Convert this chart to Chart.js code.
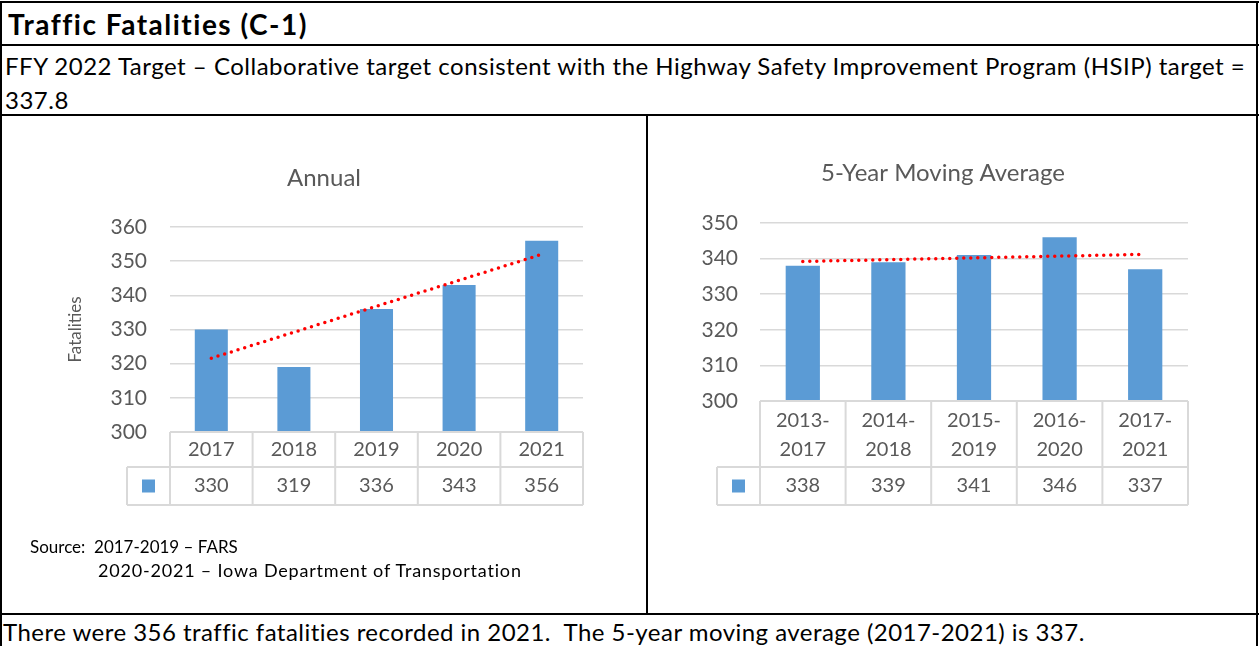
<!DOCTYPE html>
<html>
<head>
<meta charset="utf-8">
<script src="https://cdn.jsdelivr.net/npm/chart.js@4.4.0/dist/chart.umd.min.js"></script>
<style>
  html, body { margin: 0; padding: 0; background: #fff; }
  body { width: 1259px; height: 646px; position: relative; overflow: hidden; font-family: Lato, "Open Sans", sans-serif; color: #000; }
  .line { position: absolute; background: #000; }
  .txt { position: absolute; white-space: pre; line-height: 1; }
  canvas { position: absolute; }
</style>
</head>
<body>
<!-- table borders -->
<div class="line" style="left:0;top:1px;width:1259px;height:2px"></div>
<div class="line" style="left:0;top:1px;width:2px;height:645px"></div>
<div class="line" style="left:1256px;top:1px;width:2px;height:645px"></div>
<div class="line" style="left:0;top:44px;width:1259px;height:2px"></div>
<div class="line" style="left:0;top:114px;width:1259px;height:2px"></div>
<div class="line" style="left:646px;top:114px;width:2px;height:500px"></div>
<div class="line" style="left:0;top:613px;width:1259px;height:2px"></div>

<div class="txt" style="left:8px;top:10px;font-size:28px;font-weight:bold;letter-spacing:1.5px">Traffic Fatalities (C-1)</div>
<div class="txt" style="left:5px;top:54px;font-size:24px;letter-spacing:0.5px">FFY 2022 Target – Collaborative target consistent with the Highway Safety Improvement Program (HSIP) target =</div>
<div class="txt" style="left:5px;top:88px;font-size:24px;letter-spacing:0.5px">337.8</div>

<canvas id="annual" width="644" height="497" style="left:2px;top:116px;width:644px;height:497px"></canvas>
<canvas id="average" width="590" height="497" style="left:648px;top:116px;width:590px;height:497px"></canvas>

<div class="txt" style="left:30px;top:538px;font-size:17px">Source:  2017-2019 – FARS</div>
<div class="txt" style="left:98px;top:561px;font-size:18px;letter-spacing:0.8px">2020-2021 – Iowa Department of Transportation</div>

<div class="txt" style="left:3px;top:620px;font-size:24px;letter-spacing:0.47px">There were 356 traffic fatalities recorded in 2021.  The 5-year moving average (2017-2021) is 337.</div>

<script>
// Annual chart
const annualYears = ["2017", "2018", "2019", "2020", "2021"];
const annualFatalities = [330, 319, 336, 343, 356];
const annualTrend = [321.6, 329.2, 336.8, 344.4, 352.0];
const annualTicks = [300, 310, 320, 330, 340, 350, 360];

// 5-year moving average chart
const avgPeriods = [["2013-", "2017"], ["2014-", "2018"], ["2015-", "2019"], ["2016-", "2020"], ["2017-", "2021"]];
const avgFatalities = [338, 339, 341, 346, 337];
const avgTrend = [339.2, 339.7, 340.2, 340.7, 341.2];
const avgTicks = [300, 310, 320, 330, 340, 350];

const barColor = "#5B9BD5";
const textColor = "#595959";
const gridColor = "#D9D9D9";

Chart.defaults.font.family = "Lato";
Chart.defaults.color = textColor;

// draws the data table under the x axis (category row lines + value row)
const dataTable = {
    id: "dataTable",
    afterDraw(chart, args, opts) {
        const ctx = chart.ctx;
        const x = chart.scales.x;
        const values = chart.data.datasets.find((d) => d.type === "bar").data;
        const n = chart.data.labels.length;
        const step = x.width / n;
        const top = x.top;
        const mid = x.bottom;
        const bot = x.bottom + opts.rowHeight;
        const legLeft = x.left - opts.legendWidth;

        ctx.save();
        ctx.strokeStyle = gridColor;
        ctx.lineWidth = 2;
        ctx.beginPath();
        ctx.moveTo(x.left, top);
        ctx.lineTo(x.right, top);
        ctx.moveTo(legLeft, mid);
        ctx.lineTo(x.right, mid);
        ctx.moveTo(legLeft, bot);
        ctx.lineTo(x.right, bot);
        for (let i = 0; i <= n; i++) {
            const px = x.left + i * step;
            ctx.moveTo(px, top);
            ctx.lineTo(px, bot);
        }
        ctx.moveTo(legLeft, mid);
        ctx.lineTo(legLeft, bot);
        ctx.stroke();

        const cy = (mid + bot) / 2;
        ctx.fillStyle = barColor;
        ctx.fillRect(legLeft + opts.legendWidth / 2 - 6.5, cy - 6.5, 13, 13);

        ctx.fillStyle = textColor;
        ctx.font = "20px Lato";
        ctx.textAlign = "center";
        ctx.textBaseline = "middle";
        values.forEach((v, i) => {
            ctx.fillText(String(v), x.getPixelForValue(i), cy);
        });
        ctx.restore();
    },
};

function makeChart(id, cfg) {
    const ctx = document.getElementById(id).getContext("2d");
    return new Chart(ctx, {
        data: {
            labels: cfg.labels,
            datasets: [
                {
                    type: "line",
                    label: "Trend",
                    data: cfg.trend,
                    borderColor: "#FF0000",
                    borderWidth: 3.5,
                    borderDash: [0, 7],
                    borderCapStyle: "round",
                    pointRadius: 0,
                    fill: false,
                    order: 0,
                },
                {
                    type: "bar",
                    label: "Fatalities",
                    data: cfg.values,
                    backgroundColor: barColor,
                    barPercentage: 0.4,
                    categoryPercentage: 1,
                    order: 1,
                },
            ],
        },
        options: {
            responsive: false,
            animation: false,
            layout: {
                // same padding both sides so the title is centred on the canvas
                padding: { left: cfg.padSide, top: 0, right: cfg.padSide, bottom: cfg.padBottom },
            },
            plugins: {
                legend: { display: false },
                tooltip: { enabled: false },
                title: {
                    display: true,
                    text: cfg.title,
                    color: textColor,
                    font: { size: 24, weight: "normal" },
                    padding: { top: cfg.titleTop, bottom: cfg.titleBottom },
                },
                dataTable: { rowHeight: 38, legendWidth: 43 },
            },
            scales: {
                x: {
                    grid: { display: false },
                    border: { display: false },
                    ticks: {
                        color: textColor,
                        padding: cfg.xPad,
                        maxRotation: 0,
                        font: { size: 20, lineHeight: cfg.xLineHeight },
                    },
                    afterFit(scale) {
                        scale.height = cfg.xHeight;
                    },
                },
                y: {
                    min: cfg.ticks[0],
                    max: cfg.ticks[cfg.ticks.length - 1],
                    grid: { color: gridColor, lineWidth: 1.5, drawTicks: false },
                    border: { display: false },
                    ticks: {
                        stepSize: cfg.ticks[1] - cfg.ticks[0],
                        color: textColor,
                        padding: cfg.yPad,
                        font: { size: 21 },
                    },
                    title: cfg.yTitle
                        ? {
                              display: true,
                              text: cfg.yTitle,
                              color: textColor,
                              font: { size: 17 },
                              padding: { top: 0, bottom: 0 },
                          }
                        : { display: false },
                    afterFit(scale) {
                        scale.width = cfg.yWidth;
                    },
                },
            },
        },
        plugins: [dataTable],
    });
}

makeChart("annual", {
    labels: annualYears,
    values: annualFatalities,
    trend: annualTrend,
    ticks: annualTicks,
    title: "Annual",
    titleTop: 47.6,
    titleBottom: 34.6,
    padSide: 63,
    padBottom: 146,
    xHeight: 35,
    xPad: -2,
    xLineHeight: 1.2,
    yWidth: 105,
    yPad: 23,
    yTitle: "Fatalities",
});

makeChart("average", {
    labels: avgPeriods,
    values: avgFatalities,
    trend: avgTrend,
    ticks: avgTicks,
    title: "5-Year Moving Average",
    titleTop: 42.6,
    titleBottom: 35.6,
    padSide: 50,
    padBottom: 146,
    xHeight: 66,
    xPad: -2.5,
    xLineHeight: 1.45,
    yWidth: 62,
    yPad: 22,
});
</script>
</body>
</html>
